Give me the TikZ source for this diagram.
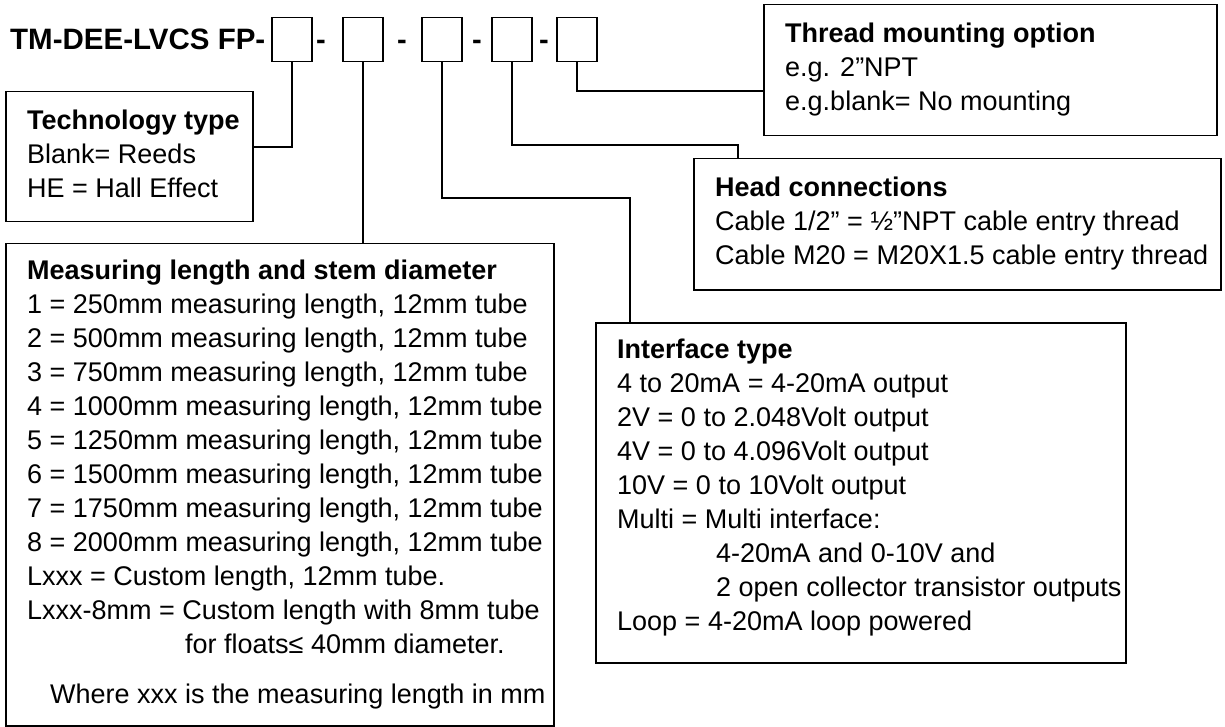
\documentclass[tikz,border=0pt]{standalone}
\usepackage{fontspec}
\setmainfont{Liberation Sans}
\begin{document}
\begin{tikzpicture}[x=1pt,y=-1pt,
  boxframe/.style={draw=black, line width=1.5pt, inner sep=0pt, anchor=north west},
  conn/.style={draw=black, line width=1.5pt},
  txt/.style={inner sep=0pt, anchor=base west, font=\fontsize{27}{34}\selectfont},
  hd/.style={txt, font=\fontsize{27}{34}\selectfont\bfseries},
  ttl/.style={inner sep=0pt, anchor=base west, font=\fontsize{29.5}{34}\selectfont\bfseries},
  dsh/.style={inner sep=0pt, anchor=base, font=\fontsize{29}{34}\selectfont\bfseries}]
\useasboundingbox (0,0) rectangle (1225,727);

% title and code boxes
\node[ttl] (title) at (10,50) {TM-DEE-LVCS FP-};
\node[boxframe, minimum width=40pt, minimum height=44pt] (b1) at (271,17) {};
\node[boxframe, minimum width=40pt, minimum height=44pt] (b2) at (342,17) {};
\node[boxframe, minimum width=40pt, minimum height=44pt] (b3) at (421,17) {};
\node[boxframe, minimum width=40pt, minimum height=44pt] (b4) at (491,17) {};
\node[boxframe, minimum width=40pt, minimum height=44pt] (b5) at (556,17) {};
\node[dsh] (d1) at (321,50) {-};
\node[dsh] (d2) at (402,50) {-};
\node[dsh] (d3) at (477,50) {-};
\node[dsh] (d4) at (544,50) {-};

% description boxes
\node[boxframe, minimum width=247pt, minimum height=130pt] (tech) at (5,91) {};
\node[boxframe, minimum width=548pt, minimum height=482pt] (meas) at (5,243) {};
\node[boxframe, minimum width=530pt, minimum height=340pt] (iface) at (595,322) {};
\node[boxframe, minimum width=527pt, minimum height=131pt] (headc) at (693,158) {};
\node[boxframe, minimum width=453pt, minimum height=131pt] (thread) at (763,4) {};

% connectors
\coordinate (k1) at (252,147);
\coordinate (k3) at (630,198);
\coordinate (k4) at (738,145);
\coordinate (k5) at (763,91);
\draw[conn] (b1.south) |- (k1);
\draw[conn] (b2.south) -- (b2.south |- meas.north);
\draw[conn] (b3.south) |- (k3) -- (k3 |- iface.north);
\draw[conn] (b4.south) |- (k4) -- (k4 |- headc.north);
\draw[conn] (b5.south) |- (k5);

% technology type
\node[hd]  (t0) at (27,130) {Technology type};
\node[txt] (t1) at (27,164) {Blank= Reeds};
\node[txt] (t2) at (27,198) {HE = Hall Effect};

% measuring length
\node[hd]  (m0) at (27,279) {Measuring length and stem diameter};
\node[txt] (m1) at (27,313) {1 = 250mm measuring length, 12mm tube};
\node[txt] (m2) at (27,347) {2 = 500mm measuring length, 12mm tube};
\node[txt] (m3) at (27,381) {3 = 750mm measuring length, 12mm tube};
\node[txt] (m4) at (27,415) {4 = 1000mm measuring length, 12mm tube};
\node[txt] (m5) at (27,449) {5 = 1250mm measuring length, 12mm tube};
\node[txt] (m6) at (27,483) {6 = 1500mm measuring length, 12mm tube};
\node[txt] (m7) at (27,517) {7 = 1750mm measuring length, 12mm tube};
\node[txt] (m8) at (27,551) {8 = 2000mm measuring length, 12mm tube};
\node[txt] (m9) at (27,585) {Lxxx = Custom length, 12mm tube.};
\node[txt] (m10) at (27,619) {Lxxx-8mm = Custom length with 8mm tube};
\node[txt] (m11) at (185,653) {for floats≤ 40mm diameter.};
\node[txt] (m12) at (50,703) {Where xxx is the measuring length in mm};

% interface type
\node[hd]  (i0) at (617,358) {Interface type};
\node[txt] (i1) at (617,392) {4 to 20mA = 4-20mA output};
\node[txt] (i2) at (617,426) {2V = 0 to 2.048Volt output};
\node[txt] (i3) at (617,460) {4V = 0 to 4.096Volt output};
\node[txt] (i4) at (617,494) {10V = 0 to 10Volt output};
\node[txt] (i5) at (617,528) {Multi = Multi interface:};
\node[txt] (i6) at (716,562) {4-20mA and 0-10V and};
\node[txt] (i7) at (716,596) {2 open collector transistor outputs};
\node[txt] (i8) at (617,630) {Loop = 4-20mA loop powered};

% head connections
\node[hd]  (h0) at (715,197) {Head connections};
\node[txt] (h1) at (715,231) {Cable 1/2” = ½”NPT cable entry thread};
\node[txt] (h2) at (715,265) {Cable M20 = M20X1.5 cable entry thread};

% thread mounting
\node[hd]  (r0) at (785,43) {Thread mounting option};
\node[txt] (r1) at (785,77) {e.g. 2”NPT};
\node[txt] (r2) at (785,111) {e.g.blank= No mounting};
\end{tikzpicture}
\end{document}
